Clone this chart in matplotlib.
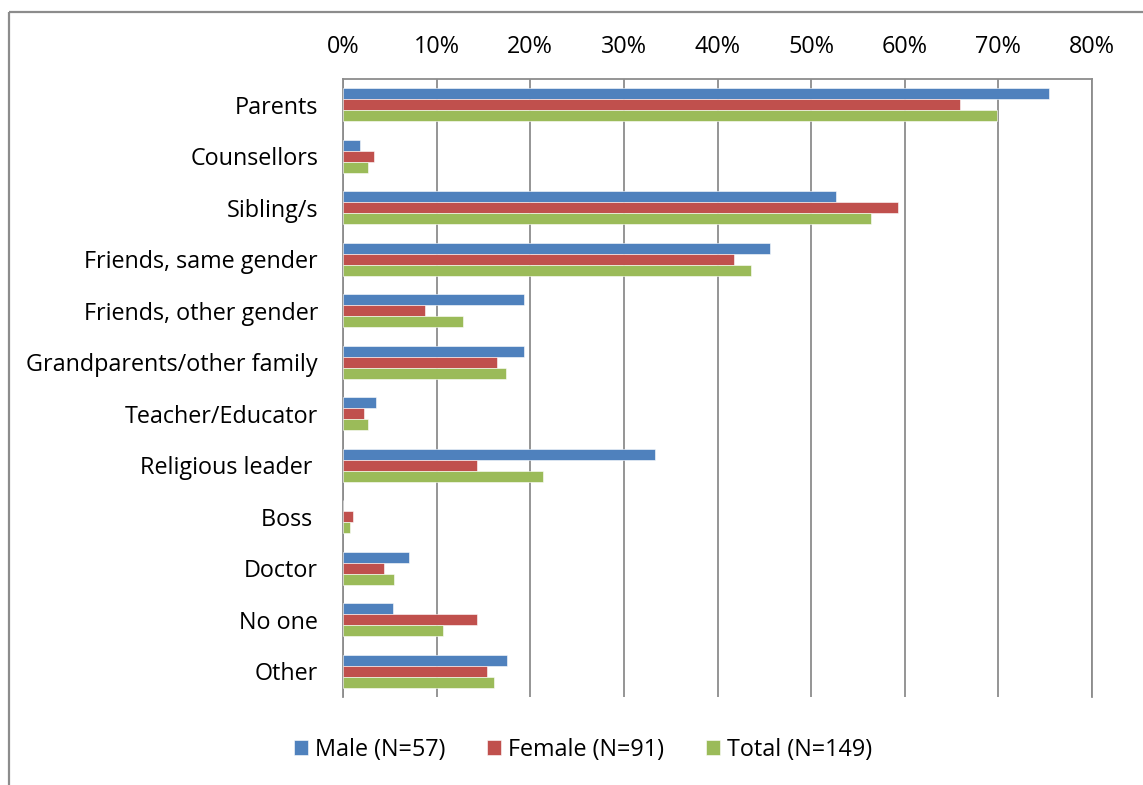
import numpy as np
import matplotlib
matplotlib.use('Agg')
import matplotlib.pyplot as plt
from matplotlib.patches import Rectangle
from matplotlib.ticker import PercentFormatter

# Categories (top to bottom) and shares in percent
categories = ['Parents', 'Counsellors', 'Sibling/s', 'Friends, same gender',
              'Friends, other gender', 'Grandparents/other family', 'Teacher/Educator',
              'Religious leader ', 'Boss ', 'Doctor', 'No one', 'Other']
male = [75.4, 1.8, 52.7, 45.6, 19.3, 19.3, 3.5, 33.3, 0.0, 7.0, 5.3, 17.5]
female = [65.9, 3.3, 59.3, 41.8, 8.8, 16.5, 2.2, 14.3, 1.1, 4.4, 14.3, 15.4]
total = [69.8, 2.7, 56.4, 43.6, 12.8, 17.4, 2.7, 21.4, 0.7, 5.4, 10.7, 16.1]
series_labels = ['Male (N=57)', 'Female (N=91)', 'Total (N=149)']
colors = ['#4F81BD', '#C0504D', '#9BBB59']

plt.rcParams['font.family'] = ['Open Sans', 'DejaVu Sans']
fs = 16.8

fig = plt.figure(figsize=(11.43, 7.85), dpi=100)

# outer chart frame: background axes covering the figure (pixel coords)
bg = fig.add_axes([0, 0, 1, 1], zorder=-1)
bg.set_xlim(0, 1143)
bg.set_ylim(785, 0)
bg.axis('off')
bg.add_patch(Rectangle((8.5, 11.5), 1200, 900, fill=False, edgecolor='#8c8c8c',
                       linewidth=1.6, clip_on=False))

ax = fig.add_axes([343 / 1143, 1 - 697 / 785, (1092 - 343) / 1143, (697 - 79) / 785])

y = np.arange(len(categories))
h = 0.215
for i, (vals, lab, col) in enumerate(zip([male, female, total], series_labels, colors)):
    ax.barh(y + (i - 1) * h, vals, height=h, color=col, label=lab,
            edgecolor='white', linewidth=0.4, zorder=3)

ax.set_xlim(0, 80)
ax.set_ylim(len(categories) - 0.5, -0.5)
ax.set_xticks(np.arange(0, 81, 10))
ax.xaxis.set_major_formatter(PercentFormatter(decimals=0))
ax.xaxis.tick_top()
ax.tick_params(axis='x', length=0, pad=14.5, labelsize=fs)
ax.tick_params(axis='y', length=0, pad=18, labelsize=fs)
ax.set_yticks(y)
ax.set_yticklabels(categories)

ax.grid(axis='x', color='#8c8c8c', linewidth=1.3, zorder=0)
for s in ['top', 'left', 'right']:
    ax.spines[s].set_color('#8c8c8c')
    ax.spines[s].set_linewidth(1.3)
ax.spines['bottom'].set_visible(False)

ax.legend(loc='center', bbox_to_anchor=(583 / 1143, 1 - 750 / 785),
          bbox_transform=fig.transFigure, ncol=3, frameon=False, fontsize=fs,
          handlelength=0.6, handleheight=0.6, handletextpad=0.3, columnspacing=1.8)

fig.savefig('out.png', dpi=100)
